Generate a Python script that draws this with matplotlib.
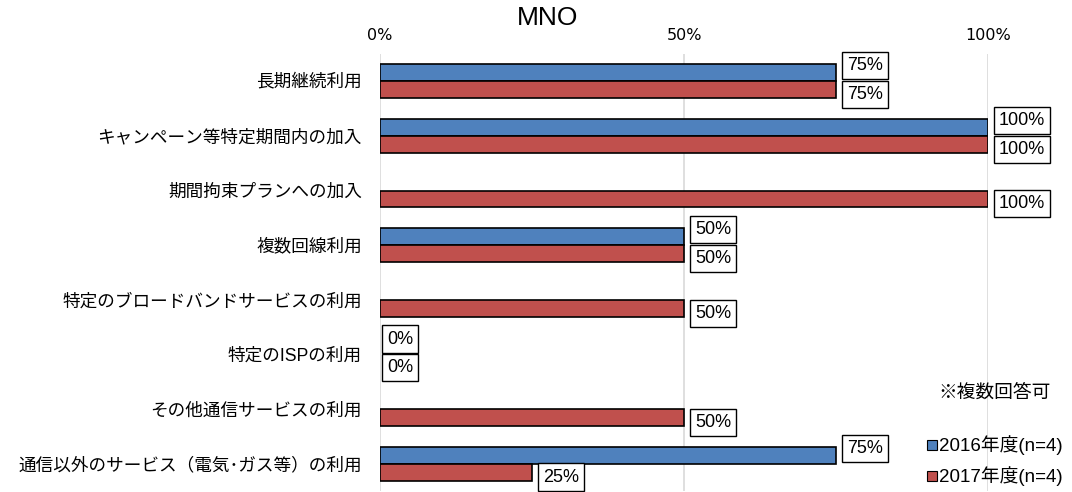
import numpy as np
import matplotlib.pyplot as plt
from matplotlib.lines import Line2D

plt.rcParams['font.family'] = ['Liberation Sans', 'Noto Sans CJK JP']

# data
categories = ['長期継続利用', 'キャンペーン等特定期間内の加入', '期間拘束プランへの加入',
              '複数回線利用', '特定のブロードバンドサービスの利用', '特定のISPの利用',
              'その他通信サービスの利用', '通信以外のサービス（電気･ガス等）の利用']
v2016 = [75, 100, np.nan, 50, np.nan, 0, np.nan, 75]
v2017 = [75, 100, 100, 50, 50, 0, 50, 25]
series_names = ['2016年度(n=4)', '2017年度(n=4)']
colors = ['#4F81BD', '#C0504D']
xticks = [0, 50, 100]
xticklabels = ['0%', '50%', '100%']

fig = plt.figure(figsize=(10.72, 4.92), dpi=100)
ax = fig.add_axes([380/1072, 1/492, (988-380)/1072, (491-54)/492])

y = np.arange(len(categories))
h = 0.31
for vals, off, c, dy in [(v2016, -h/2, colors[0], 5), (v2017, h/2, colors[1], -3.5)]:
    vals = np.array(vals, dtype=float)
    keep = np.nan_to_num(vals) > 0
    ax.barh((y + off)[keep], vals[keep], height=h, color=c, edgecolor='black',
            linewidth=1.2, zorder=3)
    for yi, v in zip(y, vals):
        if np.isnan(v):
            continue
        ax.annotate(f'{v:.0f}%', (v, yi + off), xytext=(8 if v > 0 else 5, dy),
                    textcoords='offset points', ha='left', va='center', fontsize=13,
                    annotation_clip=False,
                    bbox=dict(boxstyle='square,pad=0.28', fc='white', ec='black', lw=1))

ax.set_xlim(0, 100)
ax.set_ylim(len(categories) - 0.5, -0.5)
ax.set_yticks(y)
ax.set_yticklabels(categories, fontsize=12.7)
ax.set_xticks(xticks)
ax.set_xticklabels(xticklabels, fontsize=11.5, family='DejaVu Sans')
ax.xaxis.tick_top()
ax.tick_params(length=0)
ax.tick_params(axis='y', pad=13)
ax.tick_params(axis='x', pad=8)
for s in ax.spines.values():
    s.set_visible(False)
ax.grid(axis='x', color='#d9d9d9', lw=1.2, zorder=0)
ax.set_axisbelow(True)

fig.text(548/1072, 1 - 18/492, 'MNO', fontsize=19, ha='center', va='center')
fig.text(995/1072, 1 - 393/492, '※複数回答可', fontsize=13.5, ha='center', va='center')
for i, (name, c) in enumerate(zip(series_names, colors)):
    yy = 1 - (445 + 31*i)/492
    fig.add_artist(Line2D([931.5/1072], [yy], marker='s', markersize=6.5, color=c,
                          markeredgecolor='black', markeredgewidth=0.8, ls='none',
                          transform=fig.transFigure))
    fig.text(939/1072, yy, name, fontsize=13.5, ha='left', va='center')

fig.savefig('out.png', dpi=100)
